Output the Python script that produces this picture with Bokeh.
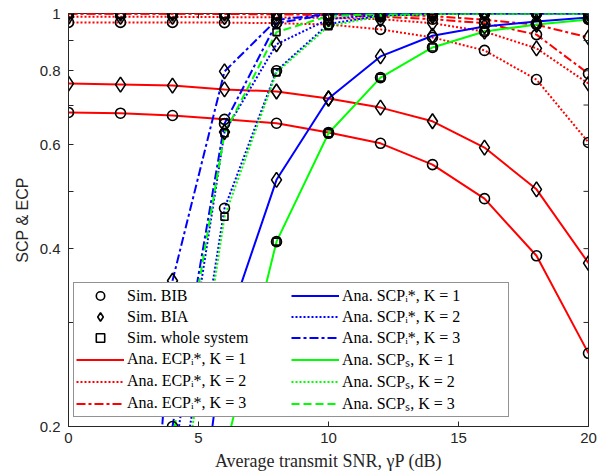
import math
from bokeh.plotting import figure
from bokeh.models import (FixedTicker, NumeralTickFormatter,
                          Legend, LegendItem, Range1d, ColumnDataSource)
from bokeh.embed import file_html
from bokeh.resources import INLINE

# ---------------- data ----------------
snr_db = [0, 2, 4, 6, 8, 10, 12, 14, 16, 18, 20]

# ECP (red) for BIB (circles) and BIA (diamonds)
ecp_k1_bib = [0.680, 0.678, 0.672, 0.662, 0.652, 0.629, 0.603, 0.555, 0.486, 0.389, 0.266]
ecp_k1_bia = [0.761, 0.758, 0.755, 0.744, 0.738, 0.718, 0.693, 0.657, 0.593, 0.504, 0.378]
ecp_k2_bib = [0.966, 0.966, 0.966, 0.965, 0.963, 0.958, 0.940, 0.911, 0.866, 0.773, 0.605]
ecp_k2_bia = [0.987, 0.987, 0.987, 0.986, 0.985, 0.983, 0.978, 0.963, 0.932, 0.873, 0.761]
ecp_k3_bib = [0.999, 0.999, 0.999, 0.998, 0.997, 0.994, 0.988, 0.978, 0.963, 0.921, 0.791]
ecp_k3_bia = [1.000, 1.000, 1.000, 1.000, 0.999, 0.998, 0.996, 0.990, 0.976, 0.957, 0.911]

# SCP of the selected user (blue)
scpi_k1_bia = [0.001, 0.008, 0.060, 0.288, 0.523, 0.718, 0.846, 0.917, 0.951, 0.969, 0.985]
scpi_k2_bib = [0.002, 0.015, 0.130, 0.468, 0.800, 0.960, 0.992, 0.998, 1.000, 1.000, 1.000]
scpi_k2_bia = [0.003, 0.030, 0.170, 0.630, 0.887, 0.978, 0.996, 0.999, 1.000, 1.000, 1.000]
scpi_k3_bib = [0.004, 0.030, 0.200, 0.651, 0.963, 0.997, 1.000, 1.000, 1.000, 1.000, 1.000]
scpi_k3_bia = [0.005, 0.020, 0.353, 0.798, 0.975, 0.998, 1.000, 1.000, 1.000, 1.000, 1.000]

# SCP of the whole system (green)
scps_k1 = [0.0005, 0.004, 0.030, 0.180, 0.411, 0.627, 0.779, 0.876, 0.932, 0.958, 0.977]
scps_k2 = [0.002, 0.014, 0.120, 0.453, 0.795, 0.952, 0.990, 0.998, 0.999, 1.000, 1.000]
scps_k3 = [0.004, 0.030, 0.190, 0.627, 0.930, 0.990, 0.998, 1.000, 1.000, 1.000, 1.000]

x_ticks = [0, 5, 10, 15, 20]
y_ticks = [0.2, 0.4, 0.6, 0.8, 1.0]
y_minor = [0.3, 0.5, 0.7, 0.9]
x_lim = (0, 20)
y_lim = (0.2, 1.0)

legend_labels = ["Sim. BIB", "Sim. BIA", "Sim. whole system",
                 "Ana. ECPᵢ*, K = 1", "Ana. ECPᵢ*, K = 2", "Ana. ECPᵢ*, K = 3",
                 "Ana. SCPᵢ*, K = 1", "Ana. SCPᵢ*, K = 2", "Ana. SCPᵢ*, K = 3",
                 "Ana. SCPₛ, K = 1", "Ana. SCPₛ, K = 2", "Ana. SCPₛ, K = 3"]

# ---------------- styles ----------------
RED, BLUE, GREEN = "#FF0000", "#0000FF", "#00FF00"
DASH = {"solid": "solid", "dot": "2 2", "dashdot": "9 3 3 3", "dash": "8 4"}
AX = "#262626"
LW = 2

p = figure(width=608, height=475, y_axis_type="log",
           x_range=Range1d(*x_lim), y_range=Range1d(*y_lim),
           output_backend="svg", toolbar_location=None,
           min_border_left=68, min_border_right=20, min_border_top=13,
           min_border_bottom=49)
p.grid.visible = False
p.outline_line_color = AX
p.background_fill_color = "white"
p.border_fill_color = "white"


def line(y, color, dash):
    src = ColumnDataSource(dict(x=snr_db, y=y))
    return p.line("x", "y", source=src, line_color=color, line_width=LW,
                  line_dash=DASH[dash])


def marks(y, marker, size):
    src = ColumnDataSource(dict(x=snr_db, y=y))
    return p.scatter("x", "y", source=src, marker=marker, size=size,
                     fill_color=None, line_color="black", line_width=1.6)


# lines
l_ecp = [line(ecp_k1_bib, RED, "solid"), line(ecp_k2_bib, RED, "dot"), line(ecp_k3_bib, RED, "dashdot")]
line(ecp_k1_bia, RED, "solid")
line(ecp_k2_bia, RED, "dot")
line(ecp_k3_bia, RED, "dashdot")
l_scpi = [line(scpi_k1_bia, BLUE, "solid"), line(scpi_k2_bib, BLUE, "dot"), line(scpi_k3_bib, BLUE, "dashdot")]
line(scpi_k2_bia, BLUE, "dot")
line(scpi_k3_bia, BLUE, "dashdot")
l_scps = [line(scps_k1, GREEN, "solid"), line(scps_k2, GREEN, "dot"), line(scps_k3, GREEN, "dash")]

# markers
CS, DS, SS = 10, 15, 7
m_bib = marks(ecp_k1_bib, "circle", CS)
for ys in (ecp_k2_bib, ecp_k3_bib, scpi_k2_bib, scpi_k3_bib, scps_k1):
    marks(ys, "circle", CS)
m_bia = marks(ecp_k1_bia, "diamond", DS)
for ys in (ecp_k2_bia, ecp_k3_bia, scpi_k1_bia, scpi_k2_bia, scpi_k3_bia):
    marks(ys, "diamond", DS)
m_sq = marks(scps_k1, "square", SS)
for ys in (scps_k2, scps_k3):
    marks(ys, "square", SS)

# inward ticks on the top and right edges of the box (half of each dash is clipped)
p.scatter(x_ticks, [y_lim[1]] * len(x_ticks), marker="dash", angle=math.pi / 2,
          size=10, line_color=AX, line_width=1)
p.scatter([x_lim[1]] * (len(y_ticks) + len(y_minor)), y_ticks + y_minor, marker="dash",
          size=10, line_color=AX, line_width=1)

# axes
xa = p.below[0]
ya = p.left[0]
xa.ticker = FixedTicker(ticks=x_ticks)
ya.ticker = FixedTicker(ticks=y_ticks, minor_ticks=y_minor)
ya.formatter = NumeralTickFormatter(format="0.[0]")
xa.axis_label = "Average transmit SNR, γP (dB)"
ya.axis_label = "SCP & ECP"

for ax in (xa, ya):
    ax.axis_line_color = AX
    ax.major_tick_line_color = AX
    ax.minor_tick_line_color = AX
    ax.major_tick_in = 5
    ax.major_tick_out = 0
    ax.minor_tick_in = 5
    ax.minor_tick_out = 0
    ax.major_label_text_color = AX
    ax.major_label_text_font = "Liberation Sans"
    ax.major_label_text_font_size = "15px"

xa.major_label_standoff = 6
ya.major_label_standoff = 8
xa.axis_label_text_font = "Liberation Serif"
xa.axis_label_text_font_size = "18px"
xa.axis_label_text_font_style = "normal"
xa.axis_label_text_color = AX
xa.axis_label_standoff = 5
ya.axis_label_text_font = "Liberation Sans"
ya.axis_label_text_font_size = "16px"
ya.axis_label_text_font_style = "normal"
ya.axis_label_text_color = AX
ya.axis_label_standoff = 6

# legend
renderers = [m_bib, m_bia, m_sq] + l_ecp + l_scpi + l_scps
items = [LegendItem(label=lab, renderers=[r]) for lab, r in zip(legend_labels, renderers)]
leg = Legend(items=items, ncols=2, location=(5, 9), margin=0, padding=2,
             spacing=0, glyph_width=48, glyph_height=21, label_height=21,
             label_width=164, label_standoff=3,
             label_text_font="Liberation Serif", label_text_font_size="16px",
             label_text_color="#000000", border_line_color=AX, border_line_width=1,
             background_fill_color="white", background_fill_alpha=1.0)
p.add_layout(leg, "center")

open("out.html", "w").write(file_html(p, INLINE))
